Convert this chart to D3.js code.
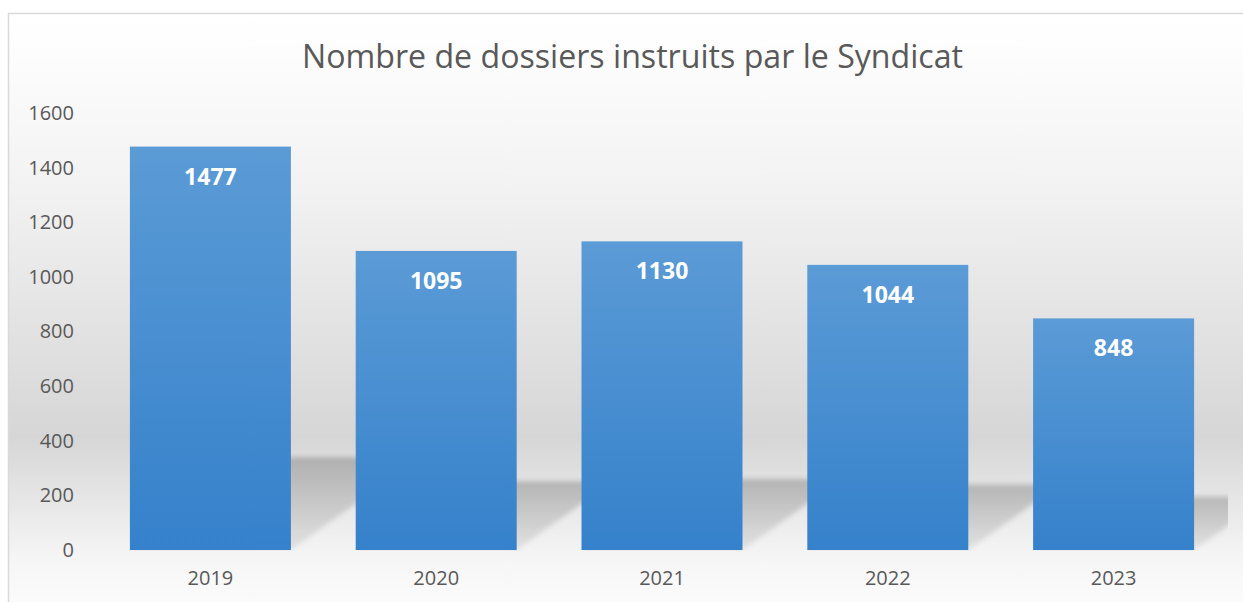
<!DOCTYPE html>
<html lang="fr">
<head>
<meta charset="utf-8">
<title>Nombre de dossiers instruits</title>
<script src="https://cdn.jsdelivr.net/npm/d3@7"></script>
<style>
  html, body { margin: 0; padding: 0; background: #ffffff; }
  svg { display: block; }
  text { font-family: "Open Sans", "Noto Sans", sans-serif; }
</style>
</head>
<body>
<svg id="chart" width="1243" height="602"></svg>
<script>
// data
const years = ["2019", "2020", "2021", "2022", "2023"];
const dossiers = [1477, 1095, 1130, 1044, 848];
const yTicks = [0, 200, 400, 600, 800, 1000, 1200, 1400, 1600];
const title = "Nombre de dossiers instruits par le Syndicat";

const W = 1243, H = 602;
const svg = d3.select("#chart");
const defs = svg.append("defs");

// chart background: white -> grey -> white, like the office gradient fill
const bg = defs.append("linearGradient").attr("id", "bgGrad")
  .attr("gradientUnits", "userSpaceOnUse")
  .attr("x1", 0).attr("y1", 13).attr("x2", 0).attr("y2", 602);
[[0, "#ffffff"], [0.07, "#fdfdfd"], [0.3, "#f2f2f2"], [0.72, "#d6d6d6"], [0.93, "#f6f6f6"], [1, "#fbfbfb"]]
  .forEach(s => bg.append("stop").attr("offset", s[0]).attr("stop-color", s[1]));

// bar fill
const barGrad = defs.append("linearGradient").attr("id", "barGrad")
  .attr("x1", 0).attr("y1", 0).attr("x2", 0).attr("y2", 1);
barGrad.append("stop").attr("offset", 0).attr("stop-color", "#5b9bd6");
barGrad.append("stop").attr("offset", 1).attr("stop-color", "#3581cb");

// shadow fill, darker far from the bar foot
const shGrad = defs.append("linearGradient").attr("id", "shGrad")
  .attr("x1", 0).attr("y1", 0).attr("x2", 0).attr("y2", 1);
shGrad.append("stop").attr("offset", 0).attr("stop-color", "#000").attr("stop-opacity", 0.2);
shGrad.append("stop").attr("offset", 1).attr("stop-color", "#000").attr("stop-opacity", 0.07);

defs.append("filter").attr("id", "blur")
  .attr("x", "-20%").attr("y", "-20%").attr("width", "140%").attr("height", "140%")
  .append("feGaussianBlur").attr("stdDeviation", 2.5);

defs.append("clipPath").attr("id", "plotClip")
  .append("rect").attr("x", 97).attr("y", 0).attr("width", 1131).attr("height", 551);

svg.append("rect")
  .attr("x", 8.5).attr("y", 13.5).attr("width", W).attr("height", H)
  .attr("fill", "url(#bgGrad)").attr("stroke", "#d9d9d9").attr("stroke-width", 1.5);

const x = d3.scaleBand().domain(years).range([97.5, 1226.5])
  .paddingInner(0.287).paddingOuter(0.1435);
const y = d3.scaleLinear().domain([0, 1600]).range([550, 113]);

const rows = years.map((yr, i) => ({ year: yr, value: dossiers[i] }));

// perspective shadows behind the bars
const skew = 1.4, squash = 0.23;
svg.append("g").attr("clip-path", "url(#plotClip)")
  .selectAll("path").data(rows).join("path")
  .attr("d", d => {
    const x0 = x(d.year), x1 = x0 + x.bandwidth();
    const y0 = y(0), h = (y(0) - y(d.value)) * squash;
    return `M${x0},${y0}L${x1},${y0}L${x1 + skew * h},${y0 - h}L${x0 + skew * h},${y0 - h}Z`;
  })
  .attr("fill", "url(#shGrad)")
  .attr("filter", "url(#blur)");

svg.append("g").selectAll("rect").data(rows).join("rect")
  .attr("x", d => x(d.year))
  .attr("y", d => y(d.value))
  .attr("width", x.bandwidth())
  .attr("height", d => y(0) - y(d.value))
  .attr("fill", "url(#barGrad)");

// value labels
svg.append("g").selectAll("text").data(rows).join("text")
  .attr("x", d => x(d.year) + x.bandwidth() / 2)
  .attr("y", d => y(d.value) + 30)
  .attr("dy", "0.35em")
  .attr("text-anchor", "middle")
  .attr("fill", "#ffffff")
  .attr("font-size", 23)
  .attr("font-weight", 700)
  .text(d => d.value);

// y axis (labels only)
const yAxis = svg.append("g")
  .attr("transform", "translate(74,0)")
  .call(d3.axisLeft(y).tickValues(yTicks).tickSize(0).tickPadding(0).tickFormat(d3.format("d")));
yAxis.select(".domain").remove();
yAxis.selectAll("text")
  .attr("fill", "#595959").attr("font-size", 20)
  .style("font-family", "'Open Sans', sans-serif");

// x axis (labels only)
const xAxis = svg.append("g")
  .attr("transform", "translate(0,571)")
  .call(d3.axisBottom(x).tickSize(0).tickPadding(0));
xAxis.select(".domain").remove();
xAxis.selectAll("text")
  .attr("fill", "#595959").attr("font-size", 20)
  .style("font-family", "'Open Sans', sans-serif");

svg.append("text")
  .attr("x", 632.5).attr("y", 68)
  .attr("text-anchor", "middle")
  .attr("fill", "#595959")
  .attr("font-size", 32)
  .attr("textLength", 661)
  .attr("lengthAdjust", "spacingAndGlyphs")
  .text(title);
</script>
</body>
</html>
